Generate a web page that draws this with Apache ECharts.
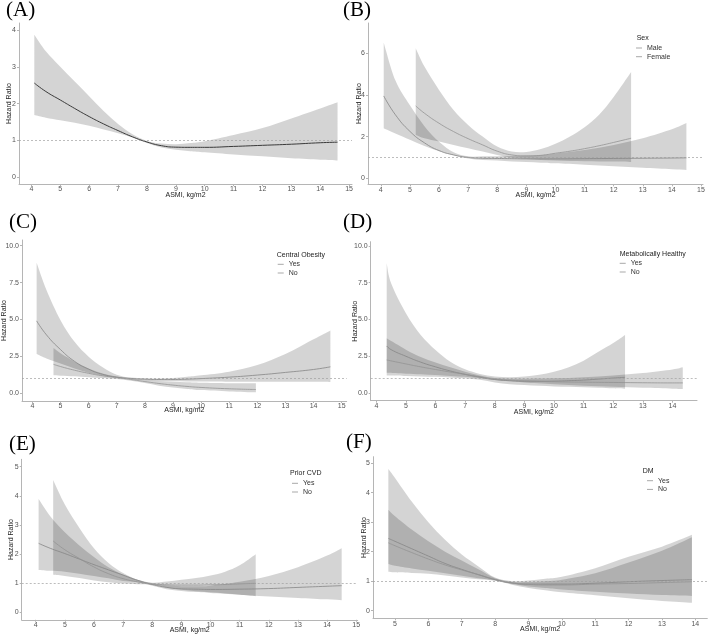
<!DOCTYPE html>
<html><head><meta charset="utf-8">
<script src="https://cdn.jsdelivr.net/npm/echarts@6/dist/echarts.min.js"></script>
<style>html,body{margin:0;padding:0;background:#fff}#c{width:709px;height:635px}</style>
</head><body><div id="c"></div><script>
// ---------- Panel A ----------
const A_x  = [4.1,4.5,5,5.5,6,6.5,7,7.5,8,8.5,9,9.5,10,11,12,13,14,14.6];
const A_hr = [2.56,2.33,2.1,1.87,1.65,1.45,1.27,1.1,0.96,0.86,0.82,0.815,0.815,0.84,0.87,0.9,0.94,0.955];
const A_hi = [3.87,3.42,3.0,2.6,2.2,1.8,1.45,1.17,0.99,0.92,0.9,0.93,0.98,1.15,1.34,1.6,1.87,2.04];
const A_lo = [1.69,1.62,1.55,1.48,1.4,1.3,1.2,1.08,0.93,0.81,0.75,0.71,0.68,0.62,0.57,0.52,0.48,0.46];
const A_xticks = [4,5,6,7,8,9,10,11,12,13,14,15];
const A_yticks = [0,1,2,3,4];
// ---------- Panel B (Sex) ----------
const B1_x  = [4.1,4.5,5,5.5,6,6.5,7,7.5,8,8.5,9,9.5,10,11,12,13,14,14.5];
const B1_hr = [3.95,3.05,2.25,1.7,1.33,1.12,1.0,0.96,0.95,0.94,0.93,0.93,0.93,0.94,0.95,0.96,0.97,0.98];
const B1_hi = [6.5,4.7,3.5,2.5,1.75,1.25,1.05,1.05,1.06,1.07,1.09,1.12,1.18,1.35,1.6,1.92,2.35,2.65];
const B1_lo = [2.4,2.15,1.85,1.55,1.3,1.1,0.95,0.88,0.85,0.81,0.78,0.75,0.72,0.65,0.58,0.5,0.43,0.4];
const B2_x  = [5.2,5.5,6,6.5,7,7.5,8,8.5,9,9.5,10,10.5,11,11.5,12,12.6];
const B2_hr = [3.47,3.12,2.64,2.24,1.9,1.6,1.3,1.12,1.07,1.1,1.2,1.3,1.42,1.56,1.72,1.92];
const B2_hi = [6.24,5.36,4.24,3.28,2.56,2.0,1.52,1.28,1.26,1.4,1.65,2.0,2.45,3.05,3.9,5.1];
const B2_lo = [2.08,1.92,1.76,1.6,1.44,1.28,1.12,0.99,0.92,0.88,0.85,0.83,0.82,0.81,0.8,0.78];
const B_xticks = [4,5,6,7,8,9,10,11,12,13,14,15];
const B_yticks = [0,2,4,6];
// ---------- Panel C (Central Obesity) ----------
const C1_x  = [4.15,4.5,5,5.5,6,6.5,7,7.5,8,8.5,9,9.5,10,11,12,13,14,14.6];
const C1_hr = [4.9,3.95,2.95,2.15,1.62,1.27,1.08,0.99,0.94,0.92,0.92,0.94,0.98,1.08,1.22,1.4,1.6,1.78];
const C1_hi = [8.85,7.0,4.95,3.48,2.47,1.75,1.25,1.05,1.0,0.99,1.02,1.1,1.2,1.45,1.9,2.65,3.65,4.25];
const C1_lo = [2.65,2.35,2.0,1.67,1.38,1.18,1.04,0.95,0.87,0.82,0.8,0.79,0.78,0.77,0.77,0.77,0.76,0.75];
const C2_x  = [4.75,5,5.5,6,6.5,7,7.5,8,8.5,9,9.5,10,11,11.95];
const C2_hr = [1.95,1.8,1.55,1.34,1.17,1.05,0.92,0.78,0.65,0.54,0.45,0.38,0.29,0.24];
const C2_hi = [3.05,2.7,2.13,1.67,1.33,1.12,1.0,0.88,0.82,0.77,0.73,0.7,0.67,0.66];
const C2_lo = [1.2,1.18,1.14,1.08,1.02,0.95,0.84,0.68,0.5,0.37,0.28,0.2,0.11,0.05];
const C_xticks = [4,5,6,7,8,9,10,11,12,13,14,15];
const C_yticks = [0,2.5,5,7.5,10];
// ---------- Panel D (Metabolically Healthy) ----------
const D1_x  = [4.35,4.5,5,5.5,6,6.5,7,7.5,8,8.5,9,9.5,10,10.5,11,11.5,12,12.4];
const D1_hr = [3.2,2.95,2.5,2.1,1.78,1.5,1.27,1.08,0.92,0.84,0.8,0.8,0.81,0.84,0.88,0.95,1.02,1.07];
const D1_hi = [8.82,7.46,5.42,3.95,2.93,2.13,1.61,1.3,1.12,1.08,1.12,1.25,1.45,1.75,2.2,2.8,3.4,3.95];
const D1_lo = [1.2,1.19,1.16,1.13,1.1,1.06,1.0,0.9,0.72,0.6,0.54,0.49,0.45,0.42,0.39,0.36,0.32,0.29];
const D2_x  = [4.35,5,5.5,6,6.5,7,7.5,8,8.5,9,10,11,12,13,14,14.35];
const D2_hr = [2.25,1.98,1.78,1.6,1.43,1.27,1.1,0.95,0.88,0.83,0.77,0.74,0.72,0.7,0.69,0.69];
const D2_hi = [3.72,2.95,2.45,2.08,1.75,1.45,1.2,1.02,0.98,0.97,1.0,1.08,1.2,1.36,1.6,1.75];
const D2_lo = [1.38,1.32,1.28,1.22,1.16,1.1,1.0,0.88,0.8,0.72,0.6,0.5,0.42,0.36,0.3,0.28];
const D_xticks = [4,5,6,7,8,9,10,11,12,13,14];
const D_yticks = [0,2.5,5,7.5,10];
// ---------- Panel E (Prior CVD) ----------
const E1_x  = [4.1,4.5,5,5.5,6,6.5,7,7.5,8,8.5,9,9.5,10,11,12,13,14,14.5];
const E1_hr = [2.37,2.2,2.02,1.83,1.64,1.46,1.28,1.1,0.96,0.86,0.81,0.8,0.79,0.8,0.82,0.86,0.9,0.92];
const E1_hi = [3.89,3.3,2.75,2.3,1.9,1.55,1.3,1.12,1.0,0.93,0.9,0.9,0.92,1.05,1.25,1.55,1.95,2.2];
const E1_lo = [1.46,1.43,1.4,1.33,1.25,1.17,1.08,1.04,0.92,0.8,0.74,0.7,0.67,0.61,0.55,0.5,0.45,0.42];
const E2_x  = [4.6,5,5.5,6,6.5,7,7.5,8,8.5,9,9.5,10,10.5,11,11.55];
const E2_hr = [2.45,2.15,1.85,1.56,1.33,1.16,1.05,0.98,0.95,0.94,0.94,0.95,0.96,0.98,1.0];
const E2_hi = [4.54,3.7,2.9,2.2,1.7,1.35,1.12,1.02,1.06,1.12,1.18,1.27,1.4,1.62,2.0];
const E2_lo = [1.29,1.25,1.18,1.1,1.04,0.99,0.97,0.95,0.85,0.78,0.73,0.69,0.65,0.61,0.56];
const E_xticks = [4,5,6,7,8,9,10,11,12,13,14,15];
const E_yticks = [0,1,2,3,4,5];
// ---------- Panel F (DM) ----------
const F_x   = [4.8,5,5.5,6,6.5,7,7.5,8,8.5,9,9.5,10,11,12,13,13.9];
const F1_hr = [2.45,2.35,2.1,1.85,1.6,1.4,1.22,1.05,0.94,0.9,0.9,0.9,0.93,0.98,1.02,1.05];
const F1_hi = [4.8,4.5,3.7,3.0,2.4,1.9,1.5,1.12,1.0,1.02,1.08,1.15,1.44,1.83,2.17,2.57];
const F1_lo = [1.32,1.3,1.28,1.25,1.19,1.12,1.06,1.01,0.88,0.77,0.69,0.62,0.52,0.42,0.33,0.27];
const F2_hr = [2.3,2.2,1.97,1.75,1.55,1.38,1.22,1.06,0.94,0.89,0.87,0.87,0.9,0.92,0.95,0.98];
const F2_hi = [3.42,3.2,2.75,2.35,2.0,1.7,1.4,1.1,0.98,0.97,1.0,1.05,1.27,1.63,2.03,2.49];
const F2_lo = [1.58,1.52,1.43,1.35,1.27,1.18,1.1,1.02,0.9,0.82,0.77,0.72,0.64,0.58,0.53,0.5];
const F_xticks = [5,6,7,8,9,10,11,12,13,14];
const F_yticks = [0,1,2,3,4,5];

const FONT = 'Liberation Sans, Arial, sans-serif';
const SERIF = 'Liberation Serif, Times New Roman, serif';
const BAND = 'rgba(0,0,0,0.17)';
const AXC = '#b5b5b5';

const grids = [
  {left:19,   top:23,    width:333,   height:161},
  {left:368,  top:23,    width:335,   height:161.3},
  {left:21.7, top:240,   width:325,   height:161},
  {left:370.7,top:241.7, width:326.3, height:159},
  {left:21.7, top:459.3, width:336,   height:160.7},
  {left:373,  top:456.7, width:334.3, height:161.6}
];
const xr = [[3.57,15.1],[3.56,15.07],[3.63,15.18],[3.81,14.83],[3.52,15.05],[4.34,14.36]];
const yr = [[-0.18,4.19],[-0.29,7.45],[-0.54,10.39],[-0.52,10.29],[-0.25,5.25],[-0.26,5.22]];
const xt = [A_xticks,B_xticks,C_xticks,D_xticks,E_xticks,F_xticks];
const yt = [A_yticks,B_yticks,C_yticks,D_yticks,E_yticks,F_yticks];
const yDec = [0,0,1,1,0,0];
const xNameGap = [7.5,7.2,5.5,7.5,7.2,7];
const yNameGap = [6.5,5.5,14,12,7.5,5];

const xAxes = grids.map((g,i)=>({
  type:'value', gridIndex:i, min:xr[i][0], max:xr[i][1],
  name:'ASMI, kg/m2', nameLocation:'middle', nameGap:xNameGap[i], nameMoveOverlap:false,
  nameTextStyle:{fontSize:7, color:'#222', fontFamily:FONT, lineHeight:7, verticalAlign:'top'},
  axisLine:{show:true, onZero:false, lineStyle:{color:AXC, width:1}},
  axisTick:{show:true, customValues:xt[i], length:2, lineStyle:{color:AXC}},
  axisLabel:{customValues:xt[i], fontSize:7, color:'#555', margin:2, fontFamily:FONT, lineHeight:7},
  splitLine:{show:false}
}));
const yAxes = grids.map((g,i)=>({
  type:'value', gridIndex:i, min:yr[i][0], max:yr[i][1],
  name:'Hazard Ratio', nameLocation:'middle', nameGap:yNameGap[i], nameMoveOverlap:false,
  nameTextStyle:{fontSize:7, color:'#222', fontFamily:FONT, lineHeight:7},
  axisLine:{show:true, onZero:false, lineStyle:{color:AXC, width:1}},
  axisTick:{show:true, customValues:yt[i], length:2, lineStyle:{color:AXC}},
  axisLabel:{customValues:yt[i], fontSize:7, color:'#555', margin:3, fontFamily:FONT,
    formatter:(v)=> yDec[i] ? Number(v).toFixed(1) : String(Math.round(v))},
  splitLine:{show:false}
}));

// Catmull-Rom -> cubic bezier path through pixel points
function curve(pts) {
  let d = '';
  for (let i = 0; i < pts.length - 1; i++) {
    const p0 = pts[i-1] || pts[i], p1 = pts[i], p2 = pts[i+1], p3 = pts[i+2] || pts[i+1];
    const c1 = [p1[0] + (p2[0]-p0[0])/6, p1[1] + (p2[1]-p0[1])/6];
    const c2 = [p2[0] - (p3[0]-p1[0])/6, p2[1] - (p3[1]-p1[1])/6];
    d += ' C' + c1[0] + ' ' + c1[1] + ' ' + c2[0] + ' ' + c2[1] + ' ' + p2[0] + ' ' + p2[1];
  }
  return d;
}

const series = [];
function addGroup(gi, key, xs, hr, lo, hi, name, color, width, ref) {
  series.push({type:'custom', xAxisIndex:gi, yAxisIndex:gi, name:key+'_ci', silent:true, z:2,
    data:xs.map((x,k)=>[x, lo[k], hi[k]]), encode:{x:0, y:[1,2]},
    renderItem:(params, api)=>{
      if (params.dataIndex !== 0) return null;
      const up = xs.map((x,k)=>api.coord([x, hi[k]]));
      const dn = xs.map((x,k)=>api.coord([x, lo[k]])).reverse();
      const d = 'M' + up[0][0] + ' ' + up[0][1] + curve(up) +
                ' L' + dn[0][0] + ' ' + dn[0][1] + curve(dn) + ' Z';
      return {type:'path', shape:{pathData:d}, style:{fill:BAND, stroke:null}};
    }});
  const s = {type:'line', xAxisIndex:gi, yAxisIndex:gi, name:name,
    data:xs.map((x,k)=>[x, hr[k]]), smooth:true, symbol:'none',
    itemStyle:{color:color}, lineStyle:{color:color, width:width}, z:4};
  if (ref) s.markLine = {silent:true, symbol:'none', label:{show:false},
    lineStyle:{color:'#a0a0a0', type:[2,2], width:0.7}, data:[{yAxis:1}]};
  series.push(s);
}
addGroup(0,'A', A_x, A_hr, A_lo, A_hi, 'Overall', '#3a3a3a', 1, true);
addGroup(1,'B1', B1_x, B1_hr, B1_lo, B1_hi, 'Male', '#858585', 0.8, true);
addGroup(1,'B2', B2_x, B2_hr, B2_lo, B2_hi, 'Female', '#939393', 0.8, false);
addGroup(2,'C1', C1_x, C1_hr, C1_lo, C1_hi, 'Yes', '#858585', 0.8, true);
addGroup(2,'C2', C2_x, C2_hr, C2_lo, C2_hi, 'No', '#939393', 0.8, false);
addGroup(3,'D1', D1_x, D1_hr, D1_lo, D1_hi, 'Yes', '#858585', 0.8, true);
addGroup(3,'D2', D2_x, D2_hr, D2_lo, D2_hi, 'No', '#939393', 0.8, false);
addGroup(4,'E1', E1_x, E1_hr, E1_lo, E1_hi, 'Yes', '#858585', 0.8, true);
addGroup(4,'E2', E2_x, E2_hr, E2_lo, E2_hi, 'No', '#939393', 0.8, false);
addGroup(5,'F1', F_x, F1_hr, F1_lo, F1_hi, 'Yes', '#858585', 0.8, true);
addGroup(5,'F2', F_x, F2_hr, F2_lo, F2_hi, 'No', '#939393', 0.8, false);

function panelLabel(t, l, tp){ return {text:t, left:l, top:tp, padding:0,
  textStyle:{fontFamily:SERIF, fontSize:21, fontWeight:'normal', color:'#000', lineHeight:21}}; }
function legTitle(t, l, cy){ return {text:t, left:l, top:cy-3.5, padding:0,
  textStyle:{fontFamily:FONT, fontSize:7, fontWeight:'normal', color:'#222', lineHeight:7}}; }
function legend(l, cy, names){ return {left:l, top:cy-3.5, orient:'vertical', padding:0,
  itemWidth:6, itemHeight:1, itemGap:1.7, selectedMode:false, icon:'rect',
  data:names.map(n=>({name:n, icon:'rect', itemStyle:{color:'#a8a8a8'}})),
  textStyle:{fontFamily:FONT, fontSize:7, color:'#333', lineHeight:7}}; }

const option = {
  animation:false, backgroundColor:'#fff',
  grid:grids, xAxis:xAxes, yAxis:yAxes, series:series,
  title:[
    panelLabel('(A)',6,0), panelLabel('(B)',343,0),
    panelLabel('(C)',9,211.5), panelLabel('(D)',343,211.5),
    panelLabel('(E)',9,434), panelLabel('(F)',346,432),
    legTitle('Sex',636.7,38.3), legTitle('Central Obesity',276.7,255),
    legTitle('Metabolically Healthy',619.7,254), legTitle('Prior CVD',290,472.7),
    legTitle('DM',642.7,471)
  ],
  legend:[
    legend(636,48,['Male','Female']),
    legend(277.7,264.3,['Yes','No']),
    legend(619.7,263.3,['Yes','No']),
    legend(292,483.3,['Yes','No']),
    legend(647,480.7,['Yes','No'])
  ]
};
const chart = echarts.init(document.getElementById('c'), null, {renderer:'canvas'});
chart.setOption(option);
</script></body></html>
